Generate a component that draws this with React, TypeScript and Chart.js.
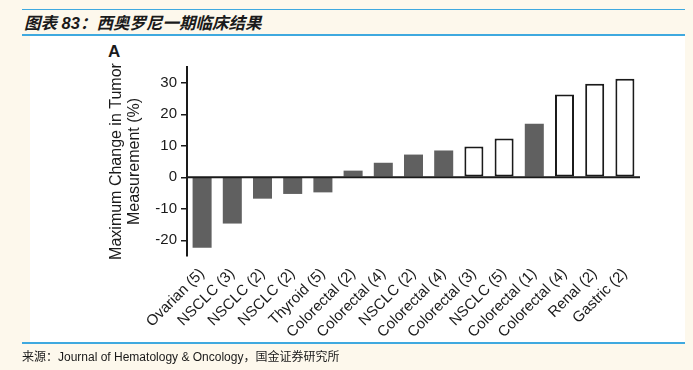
import React, { useEffect, useRef } from 'react';
import { Chart, registerables } from 'chart.js';

Chart.register(...registerables);

const labels = [
  'Ovarian (5)', 'NSCLC (3)', 'NSCLC (2)', 'NSCLC (2)', 'Thyroid (5)',
  'Colorectal (2)', 'Colorectal (4)', 'NSCLC (2)', 'Colorectal (4)', 'Colorectal (3)',
  'NSCLC (5)', 'Colorectal (1)', 'Colorectal (4)', 'Renal (2)', 'Gastric (2)',
];
const values = [-22.4, -14.7, -6.8, -5.3, -4.8, 2.1, 4.6, 7.2, 8.5, 9.8, 12.3, 17.0, 26.3, 29.7, 31.3];
const openBar = [false, false, false, false, false, false, false, false, false, true, true, false, true, true, true];
const yTicks = [-20, -10, 0, 10, 20, 30];
const yMin = -25;
const yMax = 35;

const GRAY = '#606060';
const INK = '#1a1a1a';
const BLUE = '#3fa9df';

const zeroLine = {
  id: 'zeroLine',
  afterDatasetsDraw(chart: any) {
    const { ctx, chartArea, scales } = chart;
    const y = scales.y.getPixelForValue(0);
    ctx.save();
    ctx.strokeStyle = INK;
    ctx.lineWidth = 2;
    ctx.beginPath();
    ctx.moveTo(chartArea.left, y);
    ctx.lineTo(chartArea.right, y);
    ctx.stroke();
    ctx.restore();
  },
};

export default function App() {
  const ref = useRef<HTMLCanvasElement | null>(null);

  useEffect(() => {
    if (!ref.current) return;
    const chart = new Chart(ref.current, {
      type: 'bar',
      data: {
        labels,
        datasets: [
          {
            data: values,
            backgroundColor: openBar.map((o) => (o ? '#ffffff' : GRAY)),
            borderColor: openBar.map((o) => (o ? INK : GRAY)),
            borderWidth: openBar.map((o) => (o ? 2 : 0)),
            borderSkipped: false,
            barPercentage: 0.63,
            categoryPercentage: 1,
          },
        ],
      },
      options: {
        animation: false,
        responsive: false,
        devicePixelRatio: 1,
        layout: { padding: { top: 67, right: 53, bottom: 0, left: 0 } },
        plugins: { legend: { display: false }, tooltip: { enabled: false } },
        scales: {
          x: {
            grid: { display: false },
            border: { display: false },
            ticks: {
              autoSkip: false,
              maxRotation: 45,
              minRotation: 45,
              padding: 1,
              color: INK,
              font: { family: '"Liberation Sans", Arial, sans-serif', size: 15 },
            },
            afterFit: (s: any) => {
              s.height = 114;
            },
          },
          y: {
            min: yMin,
            max: yMax,
            afterBuildTicks: (s: any) => {
              s.ticks = yTicks.map((v) => ({ value: v }));
            },
            afterFit: (s: any) => {
              s.width = 187;
            },
            grid: {
              drawOnChartArea: false,
              drawTicks: true,
              tickLength: 6,
              color: INK,
              lineWidth: 1.5,
            },
            border: { display: true, color: INK, width: 2 },
            ticks: {
              padding: 4,
              color: INK,
              font: { family: '"Liberation Sans", Arial, sans-serif', size: 15 },
            },
            title: {
              display: true,
              text: ['Maximum Change in Tumor', 'Measurement (%)'],
              color: INK,
              padding: { top: 107, bottom: 0 },
              font: { family: '"Liberation Sans", Arial, sans-serif', size: 16, lineHeight: 1.15 },
            },
          },
        },
      },
      plugins: [zeroLine],
    });
    return () => chart.destroy();
  }, []);

  return (
    <div
      style={{
        position: 'absolute',
        left: 0,
        top: 0,
        width: 693,
        height: 370,
        background: '#fdf8ec',
        overflow: 'hidden',
        fontFamily: '"Liberation Sans", Arial, sans-serif',
      }}
    >
      <div style={{ position: 'absolute', left: 22, top: 9, width: 663, height: 1, background: BLUE }} />
      <div
        style={{
          position: 'absolute',
          left: 24,
          top: 10,
          fontSize: 16.5,
          fontWeight: 'bold',
          fontStyle: 'italic',
          color: INK,
          fontFamily: '"Liberation Sans", "Noto Sans CJK SC", sans-serif',
          whiteSpace: 'nowrap',
        }}
      >
        图表 83：西奥罗尼一期临床结果
      </div>
      <div style={{ position: 'absolute', left: 22, top: 34, width: 663, height: 2, background: BLUE }} />
      <div style={{ position: 'absolute', left: 30, top: 36, width: 655, height: 306, background: '#ffffff' }} />
      <div style={{ position: 'absolute', left: 22, top: 342, width: 663, height: 2, background: BLUE }} />
      <div
        style={{
          position: 'absolute',
          left: 108,
          top: 42,
          fontSize: 17,
          fontWeight: 'bold',
          color: INK,
        }}
      >
        A
      </div>
      <canvas
        ref={ref}
        width={693}
        height={370}
        style={{ position: 'absolute', left: 0, top: 0, width: 693, height: 370 }}
      />
      <div
        style={{
          position: 'absolute',
          left: 22,
          top: 347,
          fontSize: 12,
          color: INK,
          whiteSpace: 'nowrap',
          fontFamily: '"Liberation Sans", "Noto Sans CJK SC", sans-serif',
        }}
      >
        来源：Journal of Hematology &amp; Oncology，国金证券研究所
      </div>
    </div>
  );
}
